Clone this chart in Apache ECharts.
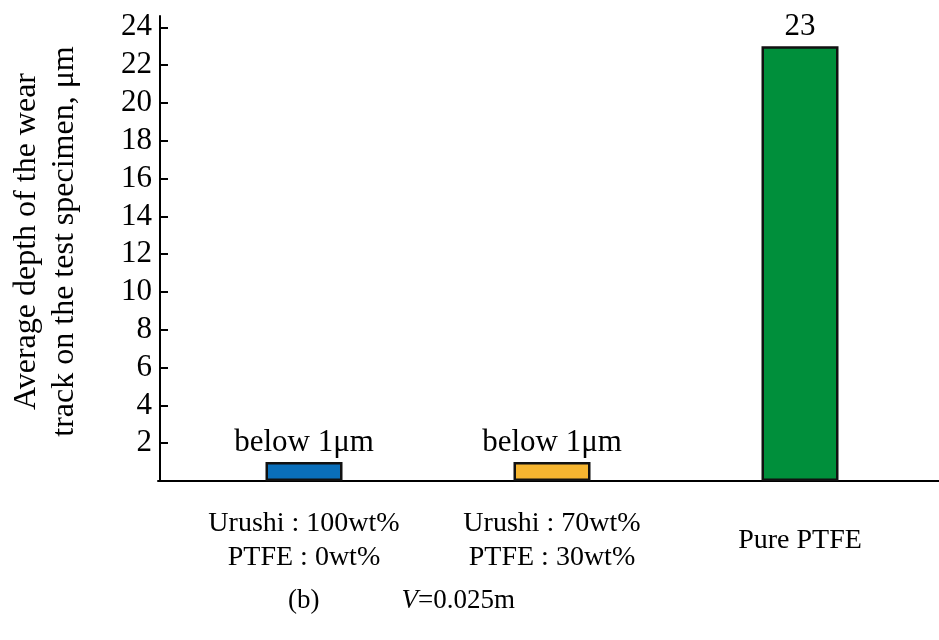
<!DOCTYPE html>
<html>
<head>
<meta charset="utf-8">
<script src="https://cdn.jsdelivr.net/npm/echarts@6/dist/echarts.min.js"></script>
<style>
html,body{margin:0;padding:0;background:#fff;}
#c{width:939px;height:640px;}
</style>
</head>
<body>
<div id="c"></div>
<script>
var categories = ['Urushi : 100wt%\nPTFE : 0wt%', 'Urushi : 70wt%\nPTFE : 30wt%', 'Pure PTFE'];
var depthValues = [1, 1, 23];
var barLabels = ['below 1\u03bcm', 'below 1\u03bcm', '23'];
var barColors = ['#0a6fba', '#f6b530', '#008f3b'];
var yTickValues = [2, 4, 6, 8, 10, 12, 14, 16, 18, 20, 22, 24];
var yAxisName = 'Average depth of the wear\ntrack on the test specimen, \u03bcm';

var FONT = "'Liberation Serif', 'Times New Roman', serif";
var chart = echarts.init(document.getElementById('c'), null, {renderer: 'canvas'});

chart.setOption({
  animation: false,
  backgroundColor: '#fff',
  textStyle: {fontFamily: FONT, color: '#000'},
  title: {
    left: 283, top: 582,
    text: '{n|(b)}{g|}{i|V}{n|=0.025m}',
    textStyle: {
      fontWeight: 'normal',
      rich: {
        n: {fontFamily: FONT, fontSize: 27, fontWeight: 'normal', color: '#000'},
        i: {fontFamily: FONT, fontSize: 27, fontWeight: 'normal', fontStyle: 'italic', color: '#000'},
        g: {width: 82}
      }
    }
  },
  grid: [
    {left: 178, right: 15, top: 16, bottom: 159},
    {left: 158, right: 0, top: 16, bottom: 159}
  ],
  xAxis: [
    {
      type: 'category', gridIndex: 0, data: categories,
      axisLine: {show: false},
      axisTick: {show: false},
      axisLabel: {
        color: '#000', fontFamily: FONT, fontSize: 28, lineHeight: 34, margin: 26, interval: 0,
        formatter: function (v) {
          return v.indexOf('\n') < 0 ? '{s|' + v + '}' : v;
        },
        rich: {
          s: {fontFamily: FONT, fontSize: 28, lineHeight: 68, color: '#000'}
        }
      }
    },
    {
      type: 'value', gridIndex: 1, min: 0, max: 1,
      axisLine: {show: true, lineStyle: {color: '#000', width: 2}},
      axisTick: {show: false}, axisLabel: {show: false}, splitLine: {show: false}
    }
  ],
  yAxis: [
    {
      type: 'value', gridIndex: 0, min: 0, max: 24.6, offset: 20,
      name: yAxisName, nameLocation: 'middle', nameRotate: 90, nameGap: 76,
      nameTextStyle: {color: '#000', fontFamily: FONT, fontSize: 32, lineHeight: 38, align: 'center', padding: [0, 0, 0, 14]},
      axisLine: {show: true, lineStyle: {color: '#000', width: 2}},
      axisTick: {show: true, inside: true, length: 8, lineStyle: {color: '#000', width: 2}, customValues: yTickValues},
      axisLabel: {color: '#000', fontFamily: FONT, fontSize: 31, margin: 8, customValues: yTickValues},
      splitLine: {show: false}
    },
    {type: 'value', gridIndex: 1, show: false, min: 0, max: 1}
  ],
  series: [{
    type: 'bar', xAxisIndex: 0, yAxisIndex: 0,
    data: depthValues.map(function (v, i) {
      return {value: v, itemStyle: {color: barColors[i]}};
    }),
    barWidth: 77,
    itemStyle: {borderColor: '#111', borderWidth: 2.5},
    label: {
      show: true, position: 'top', distance: 4,
      color: '#000', fontFamily: FONT, fontSize: 31,
      formatter: function (p) { return barLabels[p.dataIndex]; }
    }
  }]
});
</script>
</body>
</html>
